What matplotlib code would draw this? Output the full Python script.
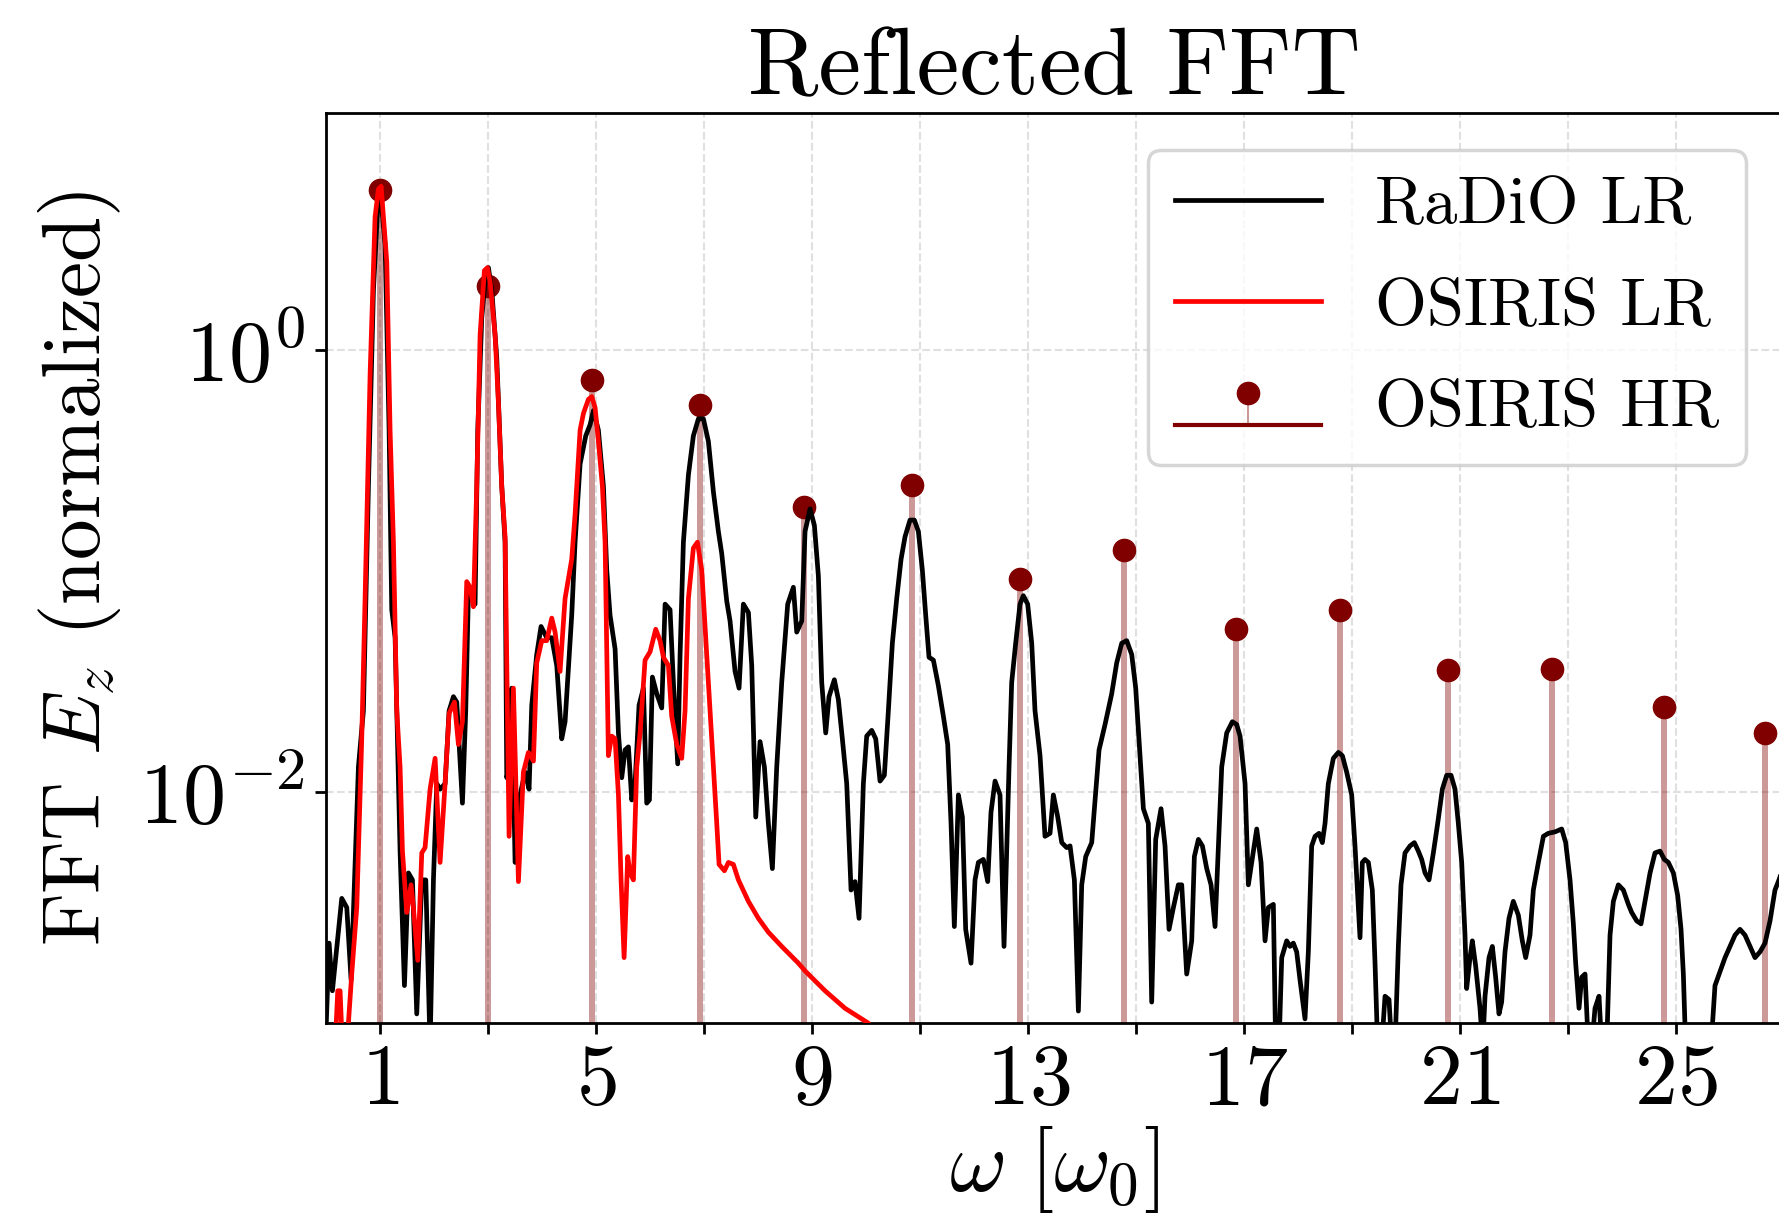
"""Reflected FFT spectrum: RaDiO LR vs OSIRIS LR/HR harmonics."""

import matplotlib as mpl
import matplotlib.pyplot as plt
from matplotlib.ticker import FixedLocator, NullLocator

mpl.rcParams.update(
    {
        "font.family": "serif",
        "font.serif": ["cmr10", "DejaVu Serif"],
        "mathtext.fontset": "cm",
        "axes.formatter.use_mathtext": True,
        "axes.unicode_minus": True,
    }
)

MAROON = "#800000"

# RaDiO LR spectrum (omega in units of omega_0)
omega_radio = [
    0.00, 0.056, 0.117, 0.290, 0.383, 0.463, 0.599, 0.691, 0.784, 0.877,
    0.957, 1.000, 1.093, 1.167, 1.216, 1.278, 1.370, 1.451, 1.525, 1.599,
    1.679, 1.772, 1.846, 1.926, 1.988, 2.050, 2.111, 2.204, 2.278, 2.358,
    2.420, 2.525, 2.586, 2.636, 2.698, 2.759, 2.809, 2.883, 2.963, 3.006,
    3.068, 3.160, 3.253, 3.315, 3.346, 3.389, 3.438, 3.500, 3.593, 3.685,
    3.759, 3.809, 3.901, 3.981, 4.086, 4.179, 4.272, 4.364, 4.426, 4.549,
    4.611, 4.704, 4.809, 4.889, 4.951, 5.043, 5.136, 5.198, 5.259, 5.352,
    5.414, 5.475, 5.537, 5.599, 5.661, 5.722, 5.796, 5.877, 5.938, 5.988,
    6.043, 6.124, 6.216, 6.278, 6.370, 6.432, 6.512, 6.556, 6.617, 6.710,
    6.802, 6.895, 6.988, 7.080, 7.173, 7.265, 7.327, 7.420, 7.481, 7.574,
    7.648, 7.728, 7.821, 7.883, 7.957, 8.037, 8.117, 8.191, 8.265, 8.346,
    8.438, 8.549, 8.654, 8.716, 8.809, 8.870, 8.963, 9.043, 9.117, 9.179,
    9.253, 9.314, 9.413, 9.487, 9.561, 9.642, 9.722, 9.796, 9.870, 9.950,
    10.012, 10.105, 10.179, 10.259, 10.339, 10.413, 10.487, 10.568, 10.648, 10.722,
    10.814, 10.895, 10.969, 11.043, 11.105, 11.166, 11.247, 11.339, 11.432, 11.512,
    11.574, 11.635, 11.710, 11.784, 11.845, 11.944, 12.018, 12.080, 12.172, 12.253,
    12.314, 12.389, 12.481, 12.555, 12.605, 12.648, 12.697, 12.771, 12.851, 12.913,
    12.993, 13.068, 13.129, 13.222, 13.314, 13.407, 13.469, 13.550, 13.624, 13.716,
    13.778, 13.858, 13.932, 13.994, 14.068, 14.179, 14.241, 14.315, 14.426, 14.549,
    14.642, 14.735, 14.827, 14.920, 14.994, 15.074, 15.136, 15.228, 15.290, 15.364,
    15.463, 15.537, 15.611, 15.692, 15.784, 15.846, 15.938, 16.031, 16.080, 16.155,
    16.229, 16.309, 16.389, 16.463, 16.525, 16.587, 16.679, 16.784, 16.864, 16.926,
    17.019, 17.080, 17.142, 17.235, 17.315, 17.389, 17.451, 17.543, 17.586, 17.648,
    17.698, 17.790, 17.852, 17.913, 17.975, 18.037, 18.129, 18.191, 18.253, 18.315,
    18.389, 18.450, 18.500, 18.561, 18.654, 18.747, 18.821, 18.901, 18.994, 19.055,
    19.105, 19.148, 19.191, 19.240, 19.302, 19.376, 19.426, 19.475, 19.549, 19.611,
    19.685, 19.735, 19.796, 19.858, 19.907, 19.981, 20.074, 20.154, 20.228, 20.290,
    20.352, 20.426, 20.506, 20.586, 20.673, 20.753, 20.833, 20.907, 20.969, 21.031,
    21.092, 21.123, 21.185, 21.228, 21.290, 21.370, 21.420, 21.463, 21.537, 21.599,
    21.660, 21.722, 21.771, 21.833, 21.907, 21.987, 22.080, 22.154, 22.216, 22.296,
    22.358, 22.451, 22.544, 22.636, 22.760, 22.883, 22.957, 23.037, 23.099, 23.142,
    23.204, 23.253, 23.315, 23.377, 23.438, 23.500, 23.574, 23.624, 23.716, 23.778,
    23.840, 23.932, 24.025, 24.118, 24.179, 24.272, 24.352, 24.426, 24.519, 24.611,
    24.704, 24.784, 24.858, 24.951, 25.031, 25.093, 25.136, 25.179, 25.290, 25.540,
    25.648, 25.722, 25.815, 25.908, 26.000, 26.093, 26.185, 26.278, 26.371, 26.463,
    26.556, 26.648, 26.741, 26.833, 26.907, 27.100, 27.300,
]
fft_radio = [
    8.5e-4, 2.07e-3, 1.26e-3, 3.3e-3, 3.0e-3, 1.41e-3, 1.30e-2, 2.33e-2, 0.242, 1.87,
    4.49, 5.45, 2.98, 0.434, 0.0668, 0.0499, 5.4e-3, 1.33e-3, 4.3e-3, 4.0e-3,
    9.9e-4, 4.0e-3, 4.0e-3, 7e-4, 4.0e-3, 1.09e-2, 1.03e-2, 1.09e-2, 2.33e-2, 2.70e-2,
    2.55e-2, 8.9e-3, 2.33e-2, 0.0796, 0.0751, 0.0708, 0.434, 1.40, 2.29, 2.36,
    1.87, 0.927, 0.242, 0.135, 1.16e-2, 1.30e-2, 2.95e-2, 4.8e-3, 9.7e-3, 1.23e-2,
    1.03e-2, 2.47e-2, 4.19e-2, 5.61e-2, 4.99e-2, 4.99e-2, 3.73e-2, 1.74e-2, 0.0208, 0.063,
    0.135, 0.305, 0.409, 0.459, 0.532, 0.434, 0.242, 0.1007, 0.063, 0.0444,
    0.0185, 0.0116, 0.0155, 0.0160, 9.2e-3, 0.0109, 0.0247, 0.0295, 8.9e-3, 9.2e-3,
    0.0331, 0.0278, 0.024, 0.0708, 0.0668, 0.0313, 0.0134, 0.0419, 0.135, 0.272,
    0.409, 0.488, 0.488, 0.386, 0.228, 0.151, 0.12, 0.073, 0.0594, 0.0351,
    0.0295, 0.0708, 0.0649, 0.0373, 7.7e-3, 0.0169, 0.013, 7.2e-3, 4.5e-3, 0.013,
    0.0313, 0.0708, 0.0844, 0.0529, 0.0594, 0.151, 0.191, 0.161, 0.0949, 0.0313,
    0.0185, 0.027, 0.0322, 0.0262, 0.0174, 0.0109, 3.6e-3, 3.93e-3, 2.68e-3, 0.0109,
    0.0179, 0.019, 0.0174, 0.0112, 0.0119, 0.0233, 0.0471, 0.0751, 0.113, 0.143,
    0.170, 0.170, 0.151, 0.1007, 0.063, 0.0407, 0.0395, 0.0303, 0.022, 0.0164,
    7.2e-3, 2.46e-3, 9.7e-3, 7.7e-3, 2.39e-3, 1.68e-3, 4.0e-3, 4.8e-3, 4.95e-3, 3.93e-3,
    8.1e-3, 0.0112, 9.7e-3, 2.0e-3, 5.4e-3, 0.013, 0.0313, 0.0471, 0.0708, 0.0773,
    0.0708, 0.0471, 0.0233, 0.0146, 6.3e-3, 6.5e-3, 9.7e-3, 7.7e-3, 5.9e-3, 5.6e-3,
    5.7e-3, 4.0e-3, 1.02e-3, 3.8e-3, 5.1e-3, 5.9e-3, 9.2e-3, 0.0155, 0.0202, 0.0278,
    0.0384, 0.0471, 0.0484, 0.0419, 0.0295, 0.0146, 8.4e-3, 7.2e-3, 1.12e-3, 6.1e-3,
    8.4e-3, 5.7e-3, 2.39e-3, 3.0e-3, 3.8e-3, 3.8e-3, 1.5e-3, 2.12e-3, 5.1e-3, 6.1e-3,
    5.7e-3, 4.5e-3, 3.8e-3, 2.46e-3, 5.7e-3, 0.013, 0.0185, 0.0208, 0.0202, 0.0179,
    0.0109, 3.8e-3, 4.8e-3, 6.8e-3, 4.8e-3, 2.12e-3, 3.0e-3, 3.1e-3, 7e-4, 7e-4,
    1.78e-3, 2.12e-3, 2.0e-3, 2.07e-3, 1.89e-3, 1.41e-3, 9.4e-4, 1.89e-3, 5.7e-3, 6.3e-3,
    6.5e-3, 5.9e-3, 7.2e-3, 0.0109, 0.0142, 0.0151, 0.0146, 0.0123, 9.7e-3, 5.7e-3,
    3.4e-3, 2.19e-3, 4.8e-3, 4.95e-3, 4.8e-3, 3.6e-3, 1.68e-3, 7e-4, 7e-4, 1.19e-3,
    1.15e-3, 7e-4, 7e-4, 2.0e-3, 3.8e-3, 5.3e-3, 5.7e-3, 5.9e-3, 5.4e-3, 4.95e-3,
    4.3e-3, 4.0e-3, 5.3e-3, 7.2e-3, 0.0103, 0.0119, 0.0119, 0.0103, 7.2e-3, 4.8e-3,
    2.25e-3, 1.29e-3, 1.78e-3, 2.12e-3, 1.63e-3, 1.05e-3, 7e-4, 1.19e-3, 1.78e-3, 2.0e-3,
    1.45e-3, 9.9e-4, 1.12e-3, 1.89e-3, 2.68e-3, 3.2e-3, 2.77e-3, 2.12e-3, 1.78e-3, 2.25e-3,
    3.6e-3, 4.8e-3, 6.3e-3, 6.5e-3, 6.6e-3, 6.8e-3, 5.9e-3, 4.0e-3, 2.53e-3, 1.68e-3,
    1.05e-3, 1.45e-3, 1.5e-3, 7e-4, 7e-4, 1.05e-3, 1.19e-3, 7e-4, 7e-4, 2.25e-3,
    3.2e-3, 3.8e-3, 3.6e-3, 3.1e-3, 2.85e-3, 2.61e-3, 2.53e-3, 3.2e-3, 4.3e-3, 5.3e-3,
    5.4e-3, 4.95e-3, 4.8e-3, 4.3e-3, 3.4e-3, 2.39e-3, 1.5e-3, 7e-4, 4e-4, 4e-4,
    7e-4, 1.33e-3, 1.54e-3, 1.78e-3, 2.0e-3, 2.25e-3, 2.39e-3, 2.25e-3, 2.0e-3, 1.78e-3,
    1.89e-3, 2.07e-3, 2.61e-3, 3.6e-3, 4.0e-3, 5.5e-3, 7.0e-3,
]

# OSIRIS LR spectrum
omega_osiris_lr = [
    0.10, 0.167, 0.216, 0.259, 0.302, 0.383, 0.475, 0.568, 0.660, 0.722,
    0.815, 0.907, 0.969, 1.019, 1.062, 1.124, 1.185, 1.247, 1.309, 1.370,
    1.414, 1.494, 1.574, 1.617, 1.698, 1.772, 1.833, 1.926, 2.019, 2.111,
    2.204, 2.278, 2.377, 2.451, 2.525, 2.605, 2.667, 2.728, 2.790, 2.852,
    2.932, 2.988, 3.037, 3.130, 3.191, 3.253, 3.315, 3.389, 3.469, 3.562,
    3.654, 3.747, 3.840, 3.901, 3.994, 4.086, 4.179, 4.241, 4.333, 4.426,
    4.549, 4.611, 4.704, 4.766, 4.858, 4.920, 4.982, 5.043, 5.117, 5.167,
    5.228, 5.290, 5.352, 5.414, 5.463, 5.519, 5.586, 5.630, 5.691, 5.753,
    5.815, 5.907, 6.000, 6.105, 6.185, 6.247, 6.340, 6.401, 6.494, 6.586,
    6.648, 6.710, 6.802, 6.877, 6.957, 7.049, 7.142, 7.235, 7.278, 7.377,
    7.451, 7.543, 7.636, 7.821, 8.006, 8.191, 8.438, 8.747, 8.870, 9.240,
    9.610, 10.040, 10.500,
]
fft_osiris_lr = [
    5e-4, 7e-4, 1.26e-3, 1.26e-3, 7e-4, 7e-4, 1.5e-3, 3.0e-3, 0.0174, 0.0751,
    0.778, 4.0, 5.35, 5.51, 4.0, 2.5, 0.434, 0.135, 0.0233, 0.013,
    5.4e-3, 2.85e-3, 3.8e-3, 3.0e-3, 1.73e-3, 5.3e-3, 5.6e-3, 0.0103, 0.0142, 4.8e-3,
    0.0109, 0.0227, 0.0255, 0.0164, 0.0208, 0.0895, 0.0844, 0.0689, 0.242, 1.17,
    2.29, 2.36, 2.04, 1.17, 0.581, 0.242, 0.143, 6.3e-3, 0.0295, 3.93e-3,
    0.0123, 0.0151, 0.0138, 0.0384, 0.0484, 0.0484, 0.0612, 0.0529, 0.0351, 0.0751,
    0.113, 0.18, 0.434, 0.517, 0.598, 0.616, 0.548, 0.386, 0.242, 0.135,
    0.0146, 0.0179, 0.0174, 9.7e-3, 4.0e-3, 1.78e-3, 5.1e-3, 4.3e-3, 4.0e-3, 0.013,
    0.0185, 0.0395, 0.0431, 0.0545, 0.0484, 0.0407, 0.0373, 0.022, 0.0164, 0.0142,
    0.0233, 0.0751, 0.127, 0.135, 0.1007, 0.0419, 0.0174, 7.2e-3, 4.7e-3, 4.4e-3,
    4.8e-3, 4.7e-3, 4.0e-3, 3.2e-3, 2.68e-3, 2.32e-3, 2.0e-3, 1.68e-3, 1.55e-3, 1.26e-3,
    1.05e-3, 9.0e-4, 6e-4,
]

# OSIRIS HR harmonic peaks
omega_hr = [1.00, 3.00, 4.93, 6.93, 8.85, 10.85, 12.85, 14.78, 16.85, 18.78,
            20.78, 22.71, 24.78, 26.64]
fft_hr = [5.3, 1.95, 0.733, 0.564, 0.195, 0.245, 0.092, 0.125, 0.0545, 0.0668,
          0.0357, 0.0362, 0.0243, 0.0185]

xticks_major = [1, 5, 9, 13, 17, 21, 25]
xticks_minor = [3, 7, 11, 15, 19, 23, 27]
yticks = [1e-2, 1e0]


def draw():
    fig = plt.figure(figsize=(17.79, 12.22), dpi=100)
    # right edge sits just past the figure border, as in the original crop
    ax = fig.add_axes([0.1833, 0.1628, 0.8186, 0.7446])
    ax.set_yscale("log")

    stem_c = ax.stem(omega_hr, fft_hr, bottom=1e-6, label="OSIRIS HR")
    markerline, stemlines, baseline = stem_c
    stemlines.set_color(MAROON)
    stemlines.set_alpha(0.4)
    stemlines.set_linewidth(4.3)
    stemlines.set_zorder(2)
    markerline.set_color(MAROON)
    markerline.set_markersize(16)
    markerline.set_zorder(2)
    baseline.set_color(MAROON)
    baseline.set_linewidth(3)

    (l_radio,) = ax.plot(omega_radio, fft_radio, color="black", lw=3.4,
                         label="RaDiO LR", zorder=3)
    (l_osiris,) = ax.plot(omega_osiris_lr, fft_osiris_lr, color="red", lw=3.4,
                          label="OSIRIS LR", zorder=4)

    ax.set_xlim(0, 26.97)
    ax.set_ylim(9.0e-4, 11.8)

    ax.xaxis.set_major_locator(FixedLocator(xticks_major))
    ax.xaxis.set_minor_locator(FixedLocator(xticks_minor))
    ax.yaxis.set_major_locator(FixedLocator(yticks))
    ax.yaxis.set_minor_locator(NullLocator())

    ax.tick_params(which="both", length=8, width=2, labelsize=62, pad=7)
    for spine in ax.spines.values():
        spine.set_linewidth(2)

    ax.grid(True, which="both", axis="x", ls="--", lw=1.5, color="0.88", zorder=0)
    ax.grid(True, which="major", axis="y", ls="--", lw=1.5, color="0.88", zorder=0)
    ax.set_axisbelow(True)

    ax.set_title("Reflected FFT", fontsize=69, pad=12)
    ax.set_xlabel(r"$\omega\ [\omega_0]$", fontsize=63, labelpad=2)
    ax.set_ylabel(r"FFT $E_z$ (normalized)", fontsize=58.5, labelpad=12)

    leg = ax.legend(
        handles=[l_radio, l_osiris, stem_c],
        labels=["RaDiO LR", "OSIRIS LR", "OSIRIS HR"],
        loc="upper right",
        fontsize=48,
        handlelength=2.2,
        labelspacing=0.62,
        borderaxespad=0.55,
        framealpha=0.8,
    )
    leg.get_frame().set_linewidth(2.5)

    fig.savefig("out.png", dpi=100)
    plt.close(fig)


if __name__ == "__main__":
    draw()
